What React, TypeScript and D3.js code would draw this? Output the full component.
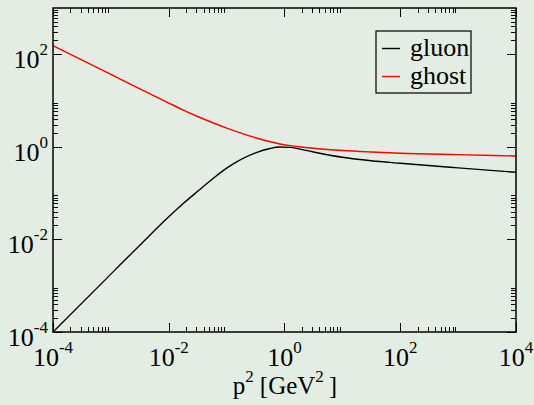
import React, { useEffect, useRef } from "react";
import * as d3 from "d3";

// momentum grid, p^2 in GeV^2
const momenta = [
  1e-4, 1e-3, 3.16e-3, 1e-2, 1.78e-2, 3.16e-2, 5.62e-2, 0.1, 0.178, 0.316,
  0.562, 0.794, 1.26, 1.78, 3.16, 10, 31.6, 100, 1000, 10000,
];
const gluon = [
  1e-4, 1.78e-3, 7.5e-3, 0.0309, 0.0596, 0.1096, 0.1995, 0.3467, 0.537, 0.741,
  0.923, 0.993, 0.973, 0.902, 0.776, 0.596, 0.501, 0.442, 0.351, 0.282,
];
const ghost = [
  153.5, 36.8, 18.0, 8.83, 6.25, 4.53, 3.36, 2.55, 1.98, 1.57, 1.29, 1.17,
  1.064, 1.007, 0.933, 0.832, 0.773, 0.73, 0.679, 0.635,
];

const xMajor = [1e-4, 1e-2, 1, 1e2, 1e4];
const xExponents = ["-4", "-2", "0", "2", "4"];
const yMajor = [1e-4, 1e-2, 1, 1e2];
const yExponents = ["-4", "-2", "0", "2"];

const seriesNames = ["gluon", "ghost"];
const seriesColors = ["#000000", "#ff0000"];

const App = () => {
  const svgRef = useRef<SVGSVGElement>(null);

  useEffect(() => {
    const width = 534;
    const height = 405;
    const left = 53;
    const right = 516;
    const top = 8;
    const bottom = 332;
    const font = "'Liberation Serif', 'Times New Roman', Times, serif";

    const svg = d3.select(svgRef.current);
    svg.selectAll("*").remove();
    svg.attr("width", width).attr("height", height);

    svg
      .append("rect")
      .attr("width", width)
      .attr("height", height)
      .attr("fill", "#e4ede3");

    const x = d3.scaleLog().domain([1e-4, 1e4]).range([left, right]);
    const y = d3.scaleLog().domain([1e-4, 1e3]).range([bottom, top]);

    // minor ticks: 2..9 times each major tick
    const minors = (majors: number[], max: number) =>
      majors.flatMap((m) => d3.range(2, 10).map((k) => k * m)).filter((v) => v < max);
    const xMinor = minors(xMajor, 1e4);
    const yMinor = minors(yMajor, 1e3);

    const ticks = svg.append("g").attr("stroke", "#000").attr("stroke-width", 1);
    const addX = (vals: number[], len: number) => {
      vals.forEach((v) => {
        const px = Math.round(x(v)) + 0.5;
        ticks.append("line").attr("x1", px).attr("x2", px).attr("y1", bottom).attr("y2", bottom - len);
        ticks.append("line").attr("x1", px).attr("x2", px).attr("y1", top).attr("y2", top + len);
      });
    };
    const addY = (vals: number[], len: number) => {
      vals.forEach((v) => {
        const py = Math.round(y(v)) + 0.5;
        ticks.append("line").attr("y1", py).attr("y2", py).attr("x1", left).attr("x2", left + len);
        ticks.append("line").attr("y1", py).attr("y2", py).attr("x1", right).attr("x2", right - len);
      });
    };
    addX(xMajor, 9);
    addX(xMinor, 5);
    addY(yMajor, 9);
    addY(yMinor, 5);

    // curves
    const line = d3
      .line<number>()
      .x((_, i) => x(momenta[i]))
      .y((d) => y(d))
      .curve(d3.curveMonotoneX);

    [gluon, ghost].forEach((s, i) => {
      svg
        .append("path")
        .attr("d", line(s))
        .attr("fill", "none")
        .attr("stroke", seriesColors[i])
        .attr("stroke-width", 1.4);
    });

    // frame
    svg
      .append("rect")
      .attr("x", left)
      .attr("y", top)
      .attr("width", right - left)
      .attr("height", bottom - top)
      .attr("fill", "none")
      .attr("stroke", "#000")
      .attr("stroke-width", 1.5);

    // tick labels
    xMajor.forEach((v, i) => {
      const t = svg
        .append("text")
        .attr("x", x(v))
        .attr("y", 366)
        .attr("text-anchor", "middle")
        .attr("font-family", font)
        .attr("font-size", 26);
      t.append("tspan").text("10");
      t.append("tspan").attr("dy", -13).attr("font-size", 17).text(xExponents[i]);
    });

    yMajor.forEach((v, i) => {
      const t = svg
        .append("text")
        .attr("x", 48)
        .attr("y", y(v) + 14)
        .attr("text-anchor", "end")
        .attr("font-family", font)
        .attr("font-size", 26);
      t.append("tspan").text("10");
      t.append("tspan").attr("dy", -13).attr("font-size", 17).text(yExponents[i]);
    });

    // axis title
    const title = svg
      .append("text")
      .attr("x", 285)
      .attr("y", 394)
      .attr("text-anchor", "middle")
      .attr("font-family", font)
      .attr("font-size", 25);
    title.append("tspan").text("p");
    title.append("tspan").attr("dy", -12).attr("font-size", 17).text("2");
    title.append("tspan").attr("dy", 12).attr("dx", 6).text("[GeV");
    title.append("tspan").attr("dy", -12).attr("font-size", 17).text("2");
    title.append("tspan").attr("dy", 12).attr("dx", 5).text("]");

    // legend
    const legend = svg.append("g");
    legend
      .append("rect")
      .attr("x", 376)
      .attr("y", 31)
      .attr("width", 95)
      .attr("height", 62)
      .attr("fill", "#e4ede3")
      .attr("stroke", "#000")
      .attr("stroke-width", 1.2);
    seriesNames.forEach((name, i) => {
      const ly = 48.5 + i * 28;
      legend
        .append("line")
        .attr("x1", 382)
        .attr("x2", 400)
        .attr("y1", ly)
        .attr("y2", ly)
        .attr("stroke", seriesColors[i])
        .attr("stroke-width", 1.4);
      legend
        .append("text")
        .attr("x", 410)
        .attr("y", ly + 7)
        .attr("font-family", font)
        .attr("font-size", 26)
        .text(name);
    });
  }, []);

  return (
    <svg
      ref={svgRef}
      style={{ position: "absolute", left: 0, top: 0, display: "block" }}
    ></svg>
  );
};

export default App;
